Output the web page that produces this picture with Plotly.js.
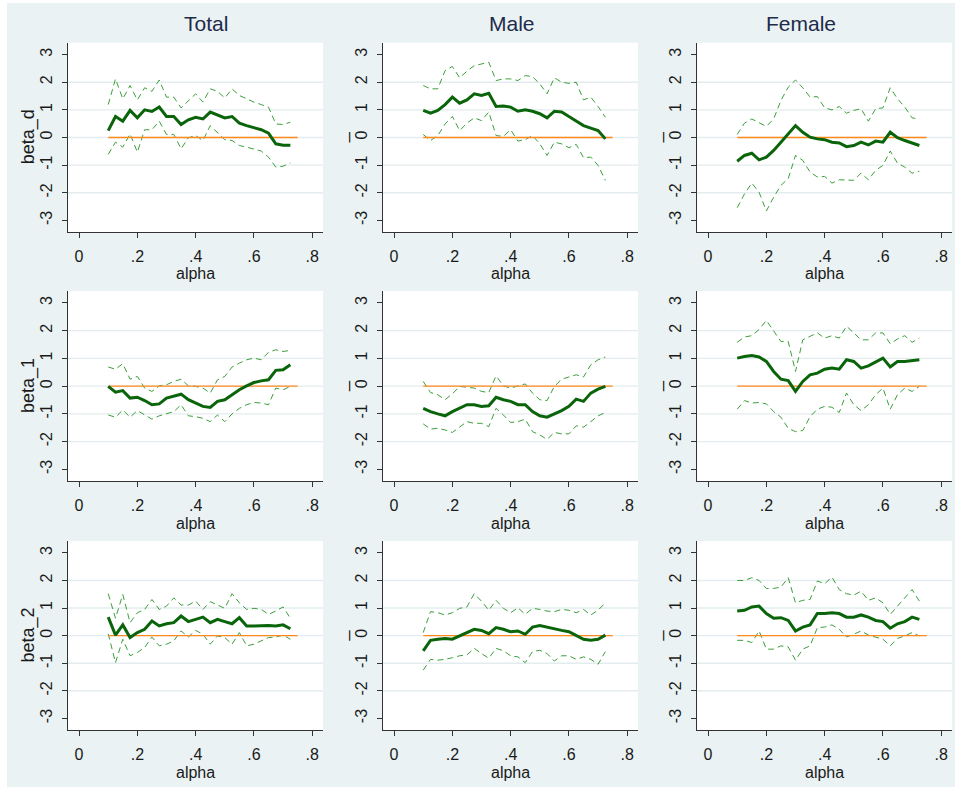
<!DOCTYPE html>
<html>
<head>
<meta charset="utf-8">
<script src="https://cdn.plot.ly/plotly-3.0.1.min.js"></script>
<style>html,body{margin:0;padding:0;background:#fff;}#chart{width:955px;height:787px;}</style>
</head>
<body>
<div id="chart"></div>
<script>
// ---------------- data ----------------
const alpha = [0.1,0.125,0.15,0.175,0.2,0.225,0.25,0.275,0.3,0.325,0.35,0.375,0.4,0.425,0.45,0.475,0.5,0.525,0.55,0.575,0.6,0.625,0.65,0.675,0.7,0.725];
const zeroX = [0.1, 0.75];
const zeroY = [0, 0];

const columnTitles = ["Total", "Male", "Female"];
const rowTitles = ["beta_d", "beta_1", "beta_2"];
const otherTitle = "_";
const xTickVals = [0, 0.2, 0.4, 0.6, 0.8];
const xTickText = ["0", ".2", ".4", ".6", ".8"];
const yTickVals = [-3, -2, -1, 0, 1, 2, 3];
const yTickText = ["-3", "-2", "-1", "0", "1", "2", "3"];
const gridVals = [-2, -1, 0, 1, 2];
const xTitle = "alpha";

// beta_d
const totalBetaD   = [0.25,0.76,0.59,0.98,0.71,1.0,0.94,1.1,0.76,0.76,0.47,0.64,0.73,0.67,0.92,0.82,0.71,0.76,0.52,0.43,0.35,0.28,0.16,-0.23,-0.28,-0.28];
const totalBetaDHi = [1.19,2.12,1.40,1.88,1.36,1.80,1.67,2.08,1.46,1.46,1.07,1.34,1.58,1.28,1.76,1.67,1.43,1.76,1.52,1.40,1.28,1.19,1.10,0.49,0.47,0.55];
const totalBetaDLo = [-0.61,-0.17,-0.35,0.13,-0.53,0.28,0.28,0.59,0.11,0.11,-0.41,-0.01,0.07,-0.11,0.43,0.19,-0.08,-0.11,-0.29,-0.35,-0.41,-0.49,-0.71,-1.07,-1.04,-0.92];
const maleBetaD    = [0.98,0.88,0.98,1.19,1.46,1.24,1.36,1.58,1.52,1.60,1.12,1.14,1.10,0.95,1.0,0.95,0.86,0.71,0.95,0.92,0.76,0.59,0.43,0.34,0.25,-0.05];
const maleBetaDHi  = [1.88,1.76,1.76,2.42,2.57,2.16,2.40,2.60,2.66,2.72,2.06,2.12,2.12,2.06,2.24,2.20,1.94,1.58,2.16,2.0,1.96,2.0,1.36,1.46,1.12,0.73];
const maleBetaDLo  = [0.11,-0.11,0.07,0.49,0.76,0.25,0.52,0.71,0.61,0.92,0.07,0.04,0.28,-0.13,-0.08,0.07,-0.23,-0.65,-0.17,-0.23,-0.37,-0.25,-0.73,-0.71,-1.01,-1.55];
const femaleBetaD   = [-0.86,-0.65,-0.57,-0.81,-0.71,-0.47,-0.17,0.13,0.43,0.19,0.01,-0.05,-0.08,-0.17,-0.20,-0.33,-0.29,-0.17,-0.27,-0.13,-0.17,0.19,-0.01,-0.11,-0.20,-0.29];
const femaleBetaDHi = [0.11,0.52,0.67,0.55,0.40,0.67,1.34,1.82,2.08,1.80,1.46,1.48,1.07,1.0,1.12,0.88,0.98,1.04,0.59,1.04,1.07,1.80,1.40,1.10,0.71,0.67];
const femaleBetaDLo = [-2.54,-2.04,-1.65,-1.98,-2.66,-2.16,-1.73,-1.49,-0.65,-0.83,-1.25,-1.43,-1.41,-1.65,-1.53,-1.55,-1.55,-1.29,-1.53,-1.19,-1.01,-0.49,-0.93,-1.07,-1.29,-1.22];

// beta_1
const totalBeta1   = [-0.01,-0.22,-0.16,-0.43,-0.40,-0.52,-0.67,-0.64,-0.43,-0.37,-0.29,-0.49,-0.61,-0.73,-0.77,-0.55,-0.49,-0.31,-0.13,0.01,0.13,0.19,0.23,0.57,0.59,0.77];
const totalBeta1Hi = [0.69,0.61,0.81,0.25,0.35,-0.07,-0.19,0.01,0.05,0.17,0.25,0.01,-0.01,-0.07,-0.25,0.23,0.35,0.69,0.83,0.95,1.01,0.95,1.22,1.31,1.25,1.29];
const totalBeta1Lo = [-1.04,-1.12,-0.86,-1.12,-0.88,-1.04,-1.19,-1.07,-1.0,-0.92,-0.67,-1.07,-1.10,-1.16,-1.28,-1.04,-1.28,-1.0,-0.80,-0.67,-0.59,-0.61,-0.67,-0.07,-0.13,-0.01];
const maleBeta1    = [-0.80,-0.92,-1.0,-1.07,-0.92,-0.80,-0.67,-0.67,-0.73,-0.71,-0.40,-0.49,-0.55,-0.67,-0.67,-0.92,-1.07,-1.12,-1.0,-0.88,-0.73,-0.47,-0.55,-0.25,-0.11,-0.01];
const maleBeta1Hi  = [0.17,-0.23,-0.31,-0.49,-0.28,-0.01,-0.04,-0.07,-0.19,-0.23,0.37,0.01,-0.07,0.01,0.08,-0.25,-0.49,-0.52,-0.01,0.25,0.33,0.41,0.33,0.77,0.95,1.05];
const maleBeta1Lo  = [-1.36,-1.55,-1.52,-1.58,-1.67,-1.46,-1.28,-1.34,-1.34,-1.46,-0.80,-1.04,-1.31,-1.28,-1.19,-1.64,-1.76,-1.92,-1.67,-1.72,-1.72,-1.43,-1.48,-1.28,-1.07,-0.95];
const femaleBeta1   = [1.01,1.07,1.10,1.05,0.89,0.53,0.25,0.20,-0.19,0.17,0.41,0.47,0.61,0.65,0.61,0.95,0.89,0.65,0.73,0.86,1.01,0.69,0.89,0.89,0.92,0.95];
const femaleBeta1Hi = [1.58,1.77,1.82,2.04,2.37,1.98,1.61,1.61,0.53,1.67,1.80,1.92,1.73,1.82,1.73,2.16,1.92,1.67,1.67,1.92,1.92,1.53,1.70,1.82,1.58,1.73];
const femaleBeta1Lo = [-0.83,-0.52,-0.61,-0.59,-0.64,-0.92,-1.12,-1.52,-1.64,-1.60,-1.10,-0.83,-0.73,-0.76,-0.95,-0.25,-0.67,-0.88,-0.67,-0.31,-0.07,-0.83,-0.31,-0.07,-0.19,-0.01];

// beta_2
const totalBeta2   = [0.67,0.02,0.39,-0.07,0.11,0.23,0.53,0.35,0.43,0.47,0.71,0.51,0.59,0.67,0.47,0.59,0.51,0.43,0.65,0.35,0.35,0.37,0.37,0.35,0.39,0.25];
const totalBeta2Hi = [1.52,0.63,1.49,0.47,0.83,0.95,1.31,0.95,1.07,1.37,1.11,1.11,1.25,0.95,1.23,1.11,0.99,1.52,1.19,0.95,0.99,0.95,0.77,0.89,1.04,0.63];
const totalBeta2Lo = [0.07,-0.98,-0.13,-0.73,-0.61,-0.43,-0.05,-0.37,-0.31,-0.19,0.17,-0.05,0.19,0.05,-0.31,-0.01,-0.07,-0.31,0.11,-0.37,-0.31,-0.19,-0.07,-0.05,0.02,-0.13];
const maleBeta2    = [-0.55,-0.17,-0.13,-0.10,-0.13,-0.01,0.11,0.23,0.19,0.07,0.29,0.23,0.14,0.17,0.05,0.31,0.37,0.31,0.23,0.19,0.14,-0.01,-0.13,-0.17,-0.13,0.02];
const maleBeta2Hi  = [0.11,0.87,0.83,0.75,0.83,0.99,1.04,1.52,1.25,0.92,1.28,0.99,0.83,1.01,0.77,0.99,0.95,0.89,0.87,0.95,0.92,0.83,0.95,0.75,0.92,1.19];
const maleBeta2Lo  = [-1.25,-0.86,-0.89,-0.86,-0.80,-0.73,-0.70,-0.46,-0.65,-0.82,-0.46,-0.55,-0.73,-0.77,-0.98,-0.58,-0.53,-0.65,-0.92,-0.73,-0.73,-0.86,-0.77,-0.86,-1.04,-0.58];
const femaleBeta2   = [0.89,0.92,1.04,1.07,0.80,0.63,0.65,0.55,0.17,0.31,0.39,0.80,0.80,0.83,0.80,0.67,0.67,0.75,0.67,0.55,0.51,0.27,0.43,0.51,0.67,0.59];
const femaleBeta2Hi = [2.0,2.0,2.10,2.0,1.71,1.71,1.76,2.10,1.19,1.28,1.31,1.98,1.88,2.12,1.67,1.52,1.47,1.61,1.28,1.37,1.19,0.77,1.07,1.37,1.67,1.25];
const femaleBeta2Lo = [-0.17,-0.17,-0.25,0.17,-0.49,-0.49,-0.37,-0.41,-0.89,-0.49,-0.37,0.29,0.31,0.39,0.23,-0.05,0.05,0.17,0.02,-0.05,-0.13,-0.37,-0.10,-0.01,0.11,-0.01];

// ---------------- layout / styling ----------------
const W = 955, H = 787;
const FONT = "Liberation Sans, Arial, Helvetica, sans-serif";
const colPx = [[68, 323], [383, 638], [697, 952]];
const rowPx = [[42.7, 232], [291, 481], [541, 730]];
const titleXpx = [206, 512, 801];

const panels = [
  [ {e: totalBetaD, h: totalBetaDHi, l: totalBetaDLo}, {e: maleBetaD, h: maleBetaDHi, l: maleBetaDLo}, {e: femaleBetaD, h: femaleBetaDHi, l: femaleBetaDLo} ],
  [ {e: totalBeta1, h: totalBeta1Hi, l: totalBeta1Lo}, {e: maleBeta1, h: maleBeta1Hi, l: maleBeta1Lo}, {e: femaleBeta1, h: femaleBeta1Hi, l: femaleBeta1Lo} ],
  [ {e: totalBeta2, h: totalBeta2Hi, l: totalBeta2Lo}, {e: maleBeta2, h: maleBeta2Hi, l: maleBeta2Lo}, {e: femaleBeta2, h: femaleBeta2Hi, l: femaleBeta2Lo} ]
];

const traces = [];
const layout = {
  width: W, height: H,
  margin: {l: 0, r: 0, t: 0, b: 0},
  paper_bgcolor: "#eaf2f3",
  plot_bgcolor: "#ffffff",
  showlegend: false,
  font: {family: FONT, color: "#1a1a1a"},
  shapes: [
    // thin white outer border (left and top edges of the picture)
    {type: "rect", xref: "paper", yref: "paper", x0: 0, x1: 7 / W, y0: 0, y1: 1, fillcolor: "#ffffff", line: {width: 0}, layer: "below"},
    {type: "rect", xref: "paper", yref: "paper", x0: 0, x1: 1, y0: 1 - 3 / H, y1: 1, fillcolor: "#ffffff", line: {width: 0}, layer: "below"}
  ],
  annotations: []
};

const ciStyle = {color: "#3c9e3c", width: 1, dash: "6px,4px"};
const estStyle = {color: "#0a640a", width: 3};
const zeroStyle = {color: "#ff8a1c", width: 1.3};

for (let r = 0; r < 3; r++) {
  for (let c = 0; c < 3; c++) {
    const k = r * 3 + c + 1;
    const xa = k === 1 ? "x" : "x" + k;
    const ya = k === 1 ? "y" : "y" + k;
    const xKey = k === 1 ? "xaxis" : "xaxis" + k;
    const yKey = k === 1 ? "yaxis" : "yaxis" + k;
    const p = panels[r][c];

    traces.push({x: alpha, y: p.h, xaxis: xa, yaxis: ya, type: "scatter", mode: "lines", line: ciStyle, hoverinfo: "skip"});
    traces.push({x: alpha, y: p.l, xaxis: xa, yaxis: ya, type: "scatter", mode: "lines", line: ciStyle, hoverinfo: "skip"});
    traces.push({x: zeroX, y: zeroY, xaxis: xa, yaxis: ya, type: "scatter", mode: "lines", line: zeroStyle, hoverinfo: "skip"});
    traces.push({x: alpha, y: p.e, xaxis: xa, yaxis: ya, type: "scatter", mode: "lines", line: estStyle, hoverinfo: "skip"});

    layout[xKey] = {
      domain: [colPx[c][0] / W, colPx[c][1] / W],
      anchor: ya,
      range: [-0.038, 0.837],
      tickvals: xTickVals, ticktext: xTickText,
      showgrid: false, zeroline: false,
      showline: true, linecolor: "#333333", linewidth: 1,
      ticks: "outside", ticklen: 5, tickcolor: "#333333", tickwidth: 1,
      ticklabelstandoff: 5,
      tickfont: {size: 16, color: "#1a1a1a", family: FONT},
      fixedrange: true
    };
    layout[yKey] = {
      domain: [1 - rowPx[r][1] / H, 1 - rowPx[r][0] / H],
      anchor: xa,
      range: [-3.42, 3.43],
      tickvals: yTickVals, ticktext: yTickText,
      tickangle: -90,
      showgrid: false, zeroline: false,
      showline: true, linecolor: "#333333", linewidth: 1,
      ticks: "outside", ticklen: 5, tickcolor: "#333333", tickwidth: 1,
      ticklabelstandoff: 4,
      tickfont: {size: 16, color: "#1a1a1a", family: FONT},
      fixedrange: true
    };

    gridVals.forEach(g => {
      layout.shapes.push({type: "line", xref: xa + " domain", yref: ya, x0: 0, x1: 1, y0: g, y1: g,
        line: {color: "#e3ecee", width: 1.4}, layer: "below"});
    });

    // x-axis title
    layout.annotations.push({text: xTitle, xref: "paper", yref: "paper",
      x: (colPx[c][0] + colPx[c][1]) / 2 / W, y: 1 - (rowPx[r][1] + 42) / H,
      xanchor: "center", yanchor: "middle", showarrow: false,
      font: {size: 16, family: FONT, color: "#1a1a1a"}});
    // y-axis title
    layout.annotations.push({text: c === 0 ? rowTitles[r] : otherTitle, xref: "paper", yref: "paper",
      x: (colPx[c][0] - (c === 0 ? 40 : 43)) / W, y: 1 - (rowPx[r][0] + rowPx[r][1]) / 2 / H,
      xanchor: "center", yanchor: "middle", textangle: -90, showarrow: false,
      font: {size: 18, family: FONT, color: "#1a1a1a"}});
  }
}

// column titles
for (let c = 0; c < 3; c++) {
  layout.annotations.push({text: columnTitles[c], xref: "paper", yref: "paper",
    x: titleXpx[c] / W, y: 1 - 23 / H, xanchor: "center", yanchor: "middle", showarrow: false,
    font: {size: 21, family: FONT, color: "#1e2b4a"}});
}

Plotly.newPlot("chart", traces, layout, {staticPlot: true, displayModeBar: false});
</script>
</body>
</html>
